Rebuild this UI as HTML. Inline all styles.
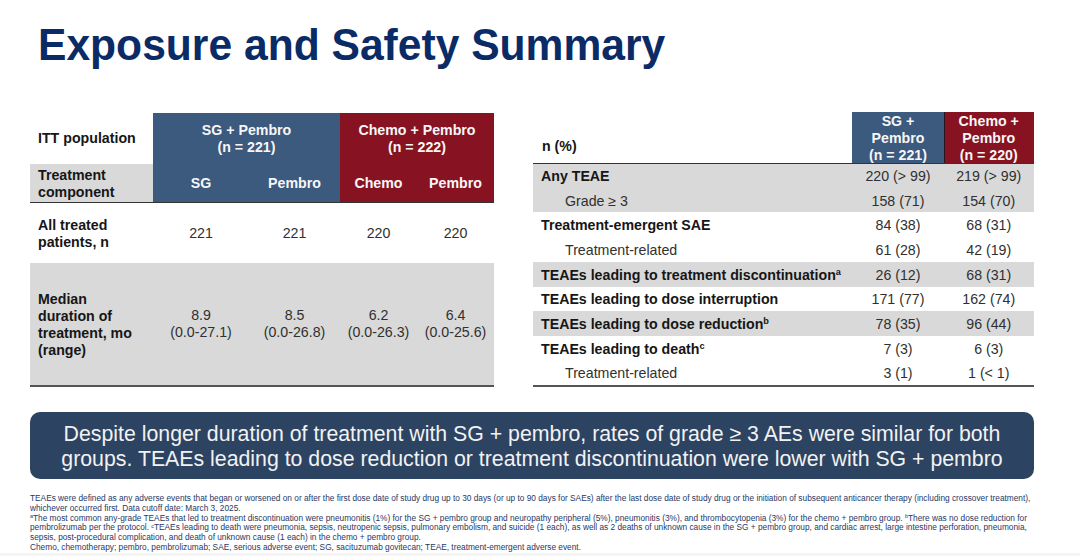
<!DOCTYPE html>
<html><head><meta charset="utf-8">
<style>
*{margin:0;padding:0;box-sizing:border-box}
html,body{width:1080px;height:556px;overflow:hidden;background:#fff}
body{position:relative;font-family:"Liberation Sans",sans-serif;color:#161616}
.a{position:absolute}
.t{position:absolute;white-space:nowrap;line-height:17px;font-size:14.2px}
.b{font-weight:700}
.c{text-align:center}
.w{color:#f6f6f6}
.g{color:#303030}
#title{position:absolute;left:38px;top:21px;font-size:42.6px;font-weight:700;color:#0b2b66;line-height:48px;white-space:nowrap;transform:scaleY(1.04);transform-origin:0 38.8px}
.blue{background:#3c597e}
.red{background:#871222}
.gray{background:#d9d9d9}
.line{background:#333}
.fn{position:absolute;left:30px;font-size:8.3px;line-height:9.8px;color:#1f3864;white-space:nowrap}
sup{font-size:65%;vertical-align:baseline;position:relative;top:-0.55em;line-height:0}
.fn sup{top:-0.5em}
</style></head><body>
<div id="title">Exposure and Safety Summary</div>

<!-- LEFT TABLE -->
<div class="a blue" style="left:153px;top:113px;width:187px;height:90px"></div>
<div class="a red" style="left:340px;top:113px;width:154px;height:90px"></div>
<div class="a gray" style="left:30px;top:163.5px;width:123px;height:39px"></div>
<div class="a line" style="left:30px;top:201.7px;width:464px;height:1.5px"></div>
<div class="a gray" style="left:30px;top:262.5px;width:464px;height:122px"></div>
<div class="a line" style="left:30px;top:384.5px;width:464px;height:2px;background:#555"></div>

<div class="t b" style="left:38px;top:130px">ITT population</div>
<div class="t b c w" style="left:153px;width:187px;top:121.5px">SG + Pembro<br>(n = 221)</div>
<div class="t b c w" style="left:340px;width:154px;top:121.5px">Chemo + Pembro<br>(n = 222)</div>

<div class="t b" style="left:38px;top:167px">Treatment<br>component</div>
<div class="t b c w" style="left:154px;width:94px;top:175px">SG</div>
<div class="t b c w" style="left:248px;width:93px;top:175px">Pembro</div>
<div class="t b c w" style="left:340px;width:77px;top:175px">Chemo</div>
<div class="t b c w" style="left:417px;width:77px;top:175px">Pembro</div>

<div class="t b" style="left:38px;top:217px">All treated<br>patients, n</div>
<div class="t c g" style="left:154px;width:94px;top:225px">221</div>
<div class="t c g" style="left:248px;width:93px;top:225px">221</div>
<div class="t c g" style="left:340px;width:77px;top:225px">220</div>
<div class="t c g" style="left:417px;width:77px;top:225px">220</div>

<div class="t b" style="left:38px;top:291px">Median<br>duration of<br>treatment, mo<br>(range)</div>
<div class="t c g" style="left:154px;width:94px;top:307px">8.9<br>(0.0-27.1)</div>
<div class="t c g" style="left:248px;width:93px;top:307px">8.5<br>(0.0-26.8)</div>
<div class="t c g" style="left:340px;width:77px;top:307px">6.2<br>(0.0-26.3)</div>
<div class="t c g" style="left:417px;width:77px;top:307px">6.4<br>(0.0-25.6)</div>

<!-- RIGHT TABLE -->
<div class="a blue" style="left:852px;top:112px;width:92px;height:51px"></div>
<div class="a red" style="left:944px;top:112px;width:89.5px;height:51px"></div>
<div class="a" style="left:943.5px;top:112px;width:1.2px;height:51px;background:#2b1520"></div>
<div class="a gray" style="left:533px;top:163px;width:500.5px;height:49.3px"></div>
<div class="a gray" style="left:533px;top:262px;width:500.5px;height:24.5px"></div>
<div class="a gray" style="left:533px;top:311.4px;width:500.5px;height:24.6px"></div>
<div class="a line" style="left:533px;top:162.5px;width:500.5px;height:1.5px"></div>
<div class="a line" style="left:533px;top:384.5px;width:500.5px;height:2px;background:#555"></div>

<div class="t b" style="left:542px;top:138px">n (%)</div>
<div class="t b c w" style="left:852px;width:92px;top:113px">SG +<br>Pembro<br>(n = 221)</div>
<div class="t b c w" style="left:944px;width:89.5px;top:113px">Chemo +<br>Pembro<br>(n = 220)</div>

<div class="t b" style="left:541px;top:168px">Any TEAE</div>
<div class="t c g" style="left:852px;width:92px;top:168px">220 (&gt; 99)</div>
<div class="t c g" style="left:944px;width:89.5px;top:168px">219 (&gt; 99)</div>

<div class="t g" style="left:565px;top:192.7px">Grade ≥ 3</div>
<div class="t c g" style="left:852px;width:92px;top:192.7px">158 (71)</div>
<div class="t c g" style="left:944px;width:89.5px;top:192.7px">154 (70)</div>

<div class="t b" style="left:541px;top:217.3px">Treatment-emergent SAE</div>
<div class="t c g" style="left:852px;width:92px;top:217.3px">84 (38)</div>
<div class="t c g" style="left:944px;width:89.5px;top:217.3px">68 (31)</div>

<div class="t g" style="left:565px;top:242px">Treatment-related</div>
<div class="t c g" style="left:852px;width:92px;top:242px">61 (28)</div>
<div class="t c g" style="left:944px;width:89.5px;top:242px">42 (19)</div>

<div class="t b" style="left:541px;top:266.7px">TEAEs leading to treatment discontinuation<sup>a</sup></div>
<div class="t c g" style="left:852px;width:92px;top:266.7px">26 (12)</div>
<div class="t c g" style="left:944px;width:89.5px;top:266.7px">68 (31)</div>

<div class="t b" style="left:541px;top:291.3px">TEAEs leading to dose interruption</div>
<div class="t c g" style="left:852px;width:92px;top:291.3px">171 (77)</div>
<div class="t c g" style="left:944px;width:89.5px;top:291.3px">162 (74)</div>

<div class="t b" style="left:541px;top:316px">TEAEs leading to dose reduction<sup>b</sup></div>
<div class="t c g" style="left:852px;width:92px;top:316px">78 (35)</div>
<div class="t c g" style="left:944px;width:89.5px;top:316px">96 (44)</div>

<div class="t b" style="left:541px;top:340.7px">TEAEs leading to death<sup>c</sup></div>
<div class="t c g" style="left:852px;width:92px;top:340.7px">7 (3)</div>
<div class="t c g" style="left:944px;width:89.5px;top:340.7px">6 (3)</div>

<div class="t g" style="left:565px;top:365.3px">Treatment-related</div>
<div class="t c g" style="left:852px;width:92px;top:365.3px">3 (1)</div>
<div class="t c g" style="left:944px;width:89.5px;top:365.3px">1 (&lt; 1)</div>

<!-- CALLOUT -->
<div class="a" style="left:30px;top:412px;width:1004px;height:67px;background:#2c4362;border-radius:10px"></div>
<div class="a c" style="left:30px;top:422px;width:1004px;font-size:21.3px;line-height:25px;color:#f2f2f2">Despite longer duration of treatment with SG + pembro, rates of grade ≥ 3 AEs were similar for both<br>groups. TEAEs leading to dose reduction or treatment discontinuation were lower with SG + pembro</div>

<div class="a" style="left:0;top:553px;width:1080px;height:3px;background:#f4f4f4"></div>
<!-- FOOTNOTES -->
<div class="fn" style="top:494px">TEAEs were defined as any adverse events that began or worsened on or after the first dose date of study drug up to 30 days (or up to 90 days for SAEs) after the last dose date of study drug or the initiation of subsequent anticancer therapy (including crossover treatment),</div>
<div class="fn" style="top:503.8px">whichever occurred first. Data cutoff date: March 3, 2025.</div>
<div class="fn" style="top:513.6px"><sup>a</sup>The most common any-grade TEAEs that led to treatment discontinuation were pneumonitis (1%) for the SG + pembro group and neuropathy peripheral (5%), pneumonitis (3%), and thrombocytopenia (3%) for the chemo + pembro group. <sup>b</sup>There was no dose reduction for</div>
<div class="fn" style="top:523.4px">pembrolizumab per the protocol. <sup>c</sup>TEAEs leading to death were pneumonia, sepsis, neutropenic sepsis, pulmonary embolism, and suicide (1 each), as well as 2 deaths of unknown cause in the SG + pembro group, and cardiac arrest, large intestine perforation, pneumonia,</div>
<div class="fn" style="top:533.2px">sepsis, post-procedural complication, and death of unknown cause (1 each) in the chemo + pembro group.</div>
<div class="fn" style="top:543px">Chemo, chemotherapy; pembro, pembrolizumab; SAE, serious adverse event; SG, sacituzumab govitecan; TEAE, treatment-emergent adverse event.</div>
</body></html>
